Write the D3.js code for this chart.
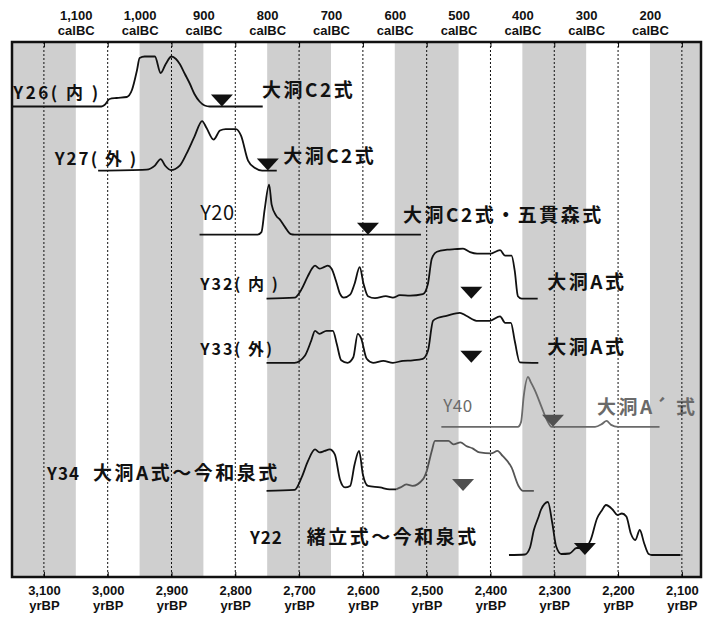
<!DOCTYPE html>
<html>
<head>
<meta charset="utf-8">
<script src="https://cdn.jsdelivr.net/npm/d3@7"></script>
<style>
body { margin: 0; background: #fff; }
svg text { font-family: "Noto Sans CJK JP", "Noto Sans", sans-serif; }
.ax text { font-family: "Liberation Sans", Arial, sans-serif; font-weight: bold; fill: #111; }
</style>
</head>
<body>
<svg id="chart" width="707" height="617"></svg>
<script>
// tick values: yrBP along the bottom, calBC along the top
var bpTicks = [3100, 3000, 2900, 2800, 2700, 2600, 2500, 2400, 2300, 2200, 2100];
var calTicks = [1100, 1000, 900, 800, 700, 600, 500, 400, 300, 200];
// shaded calBC centuries
var shadeCal = [[1200, 1100], [1000, 900], [800, 700], [600, 500], [400, 300], [200, 100]];

// samples, top to bottom
var samples = ['Y26', 'Y27', 'Y20', 'Y32', 'Y33', 'Y40', 'Y34', 'Y22'];
var sampleText = ['Y26( 内 )', 'Y27( 外 )', 'Y20', 'Y32( 内 )', 'Y33( 外)', 'Y40', 'Y34', 'Y22'];
var typeText = ['大洞C2式', '大洞C2式', '大洞C2式・五貫森式', '大洞A式', '大洞A式', '大洞A´ 式', '大洞A式〜今和泉式', '緒立式〜今和泉式'];
// triangle marks, yrBP
var markBP = [2821, 2749, 2592, 2430, 2430, 2302, 2443, 2252];

// probability curves [yrBP, relative height]
var y26 = [[3150, 0], [3010, 0], [3005, 0.03], [2997, 0.15], [2986, 0.17], [2970, 0.19], [2962, 0.33],
  [2954, 0.73], [2950, 0.97], [2942, 1.0], [2926, 1.0], [2917, 0.67], [2909, 0.85], [2900, 1.0],
  [2893, 0.95], [2887, 0.85], [2879, 0.65], [2871, 0.45], [2864, 0.25], [2856, 0.1], [2848, 0.02],
  [2840, 0], [2757, 0]];
var y27 = [[3015, 0], [2939, 0.02], [2926, 0.1], [2917, 0.23], [2910, 0.1], [2901, 0.01], [2887, 0.1],
  [2876, 0.35], [2864, 0.68], [2852, 0.99], [2845, 0.85], [2834, 0.62], [2824, 0.8], [2815, 0.83],
  [2799, 0.83], [2791, 0.7], [2780, 0.2], [2769, 0.05], [2758, 0], [2735, 0]];
var y20 = [[2856, 0], [2765, 0], [2759, 0.05], [2754, 0.5], [2747, 1.0], [2743, 0.6], [2736, 0.38],
  [2730, 0.3], [2722, 0.15], [2713, 0.01], [2707, 0], [2509, 0]];
var y32 = [[2751, 0], [2707, 0.02], [2697, 0.17], [2687, 0.43], [2680, 0.6], [2675, 0.66], [2668, 0.6],
  [2661, 0.63], [2655, 0.66], [2649, 0.6], [2642, 0.35], [2636, 0.1], [2630, 0.02], [2620, 0.08],
  [2613, 0.3], [2605, 0.63], [2599, 0.3], [2592, 0.05], [2581, 0.01], [2564, 0.05], [2553, 0.02],
  [2542, 0.07], [2526, 0.06], [2506, 0.09], [2498, 0.3], [2492, 0.8], [2484, 0.94], [2468, 0.98],
  [2456, 0.99], [2443, 1.0], [2432, 0.93], [2421, 0.9], [2401, 0.9], [2385, 0.97], [2377, 0.86],
  [2367, 0.86], [2362, 0.56], [2357, 0.05], [2351, 0], [2326, 0]];
var y33 = [[2751, 0], [2707, 0], [2691, 0.14], [2681, 0.44], [2675, 0.64], [2668, 0.58], [2657, 0.64],
  [2647, 0.64], [2641, 0.38], [2634, 0.05], [2624, 0], [2615, 0.11], [2608, 0.58], [2603, 0.5],
  [2594, 0.08], [2584, 0], [2568, 0.04], [2553, 0], [2537, 0.04], [2522, 0.05], [2506, 0.08],
  [2498, 0.24], [2490, 0.84], [2482, 0.9], [2469, 0.94], [2448, 1.0], [2438, 0.94], [2422, 0.84],
  [2401, 0.84], [2385, 0.93], [2377, 0.8], [2368, 0.8], [2362, 0.44], [2354, 0.01], [2325, 0]];
var y40 = [[2477, 0], [2357, 0], [2352, 0.1], [2348, 0.6], [2341, 1.0], [2337, 0.9], [2330, 0.72],
  [2320, 0.4], [2312, 0.15], [2304, 0], [2236, 0], [2225, 0.06], [2218, 0.12], [2211, 0.04],
  [2200, 0], [2135, 0]];
var y34a = [[2751, 0], [2707, 0.02], [2696, 0.27], [2686, 0.6], [2675, 0.83], [2668, 0.77], [2660, 0.8],
  [2652, 0.83], [2644, 0.73], [2636, 0.23], [2628, 0.07], [2620, 0.1], [2613, 0.53], [2606, 0.8],
  [2600, 0.33], [2592, 0.1], [2573, 0.07], [2558, 0.03], [2548, 0.03]];
var y34b = [[2548, 0.03], [2541, 0.07], [2532, 0.13], [2522, 0.1], [2506, 0.23], [2500, 0.4], [2492, 0.8],
  [2487, 1.0], [2466, 1.0], [2458, 0.93], [2447, 0.97], [2438, 0.9], [2428, 0.85], [2417, 0.77],
  [2399, 0.75], [2389, 0.8], [2381, 0.7], [2367, 0.47], [2356, 0.1], [2349, 0], [2332, 0]];
var y22 = [[2371, 0], [2346, 0.01], [2338, 0.15], [2332, 0.5], [2325, 0.75], [2321, 0.9], [2310, 1.06],
  [2303, 0.63], [2297, 0.17], [2289, 0.02], [2276, 0.03], [2265, 0.14], [2254, 0.14], [2243, 0.3],
  [2233, 0.73], [2225, 0.9], [2219, 1.0], [2208, 0.9], [2201, 0.8], [2194, 0.83], [2187, 0.77],
  [2180, 0.43], [2173, 0.3], [2166, 0.5], [2159, 0.23], [2152, 0.02], [2147, 0], [2102, 0]];

/*
 * Layout
 */
var svg = d3.select('#chart');
var frame = {left: 12, right: 701, top: 42, bottom: 577};

var x = d3.scaleLinear().domain([3150, 2070]).range([frame.left, frame.right]);
var cal = d3.scaleLinear().domain([3150 - 1950, 2070 - 1950]).range([frame.left, frame.right]);
var rowY = d3.scaleLinear().domain([0, samples.length - 1]).range([106.5, 555]);
var amp = d3.scaleLinear().domain([0, 1]).range([0, 50]);

// curves per row: [row, points, colour]
var curves = [
  [0, y26, '#111'], [1, y27, '#111'], [2, y20, '#111'], [3, y32, '#111'],
  [4, y33, '#111'], [5, y40, '#6a6a6a'], [6, y34a, '#111'], [6, y34b, '#555'], [7, y22, '#111']
];

// label placement: x in yrBP, offset from the row baseline, font size, weight, spacing
var sampleAt = [[3148, -8, 17, 'bold', 2.5], [3083, -6, 17, 'bold', 2], [2855, -15, 20, 'normal', 0.5],
  [2855, -9, 16, 'bold', 2], [2855, -8, 16, 'bold', 2], [2474, -15, 17, 'normal', 0.5],
  [3095, -11, 17, 'bold', 1], [2777, -11, 17, 'bold', 1]];
var typeAt = [[2758, -10], [2725, -8], [2537, -13], [2311, -10], [2311, -9], [2233, -13], [3023, -11], [2688, -11]];

svg.append('defs').append('clipPath').attr('id', 'plot')
  .append('rect')
  .attr('x', frame.left).attr('y', frame.top)
  .attr('width', frame.right - frame.left).attr('height', frame.bottom - frame.top);

var plot = svg.append('g').attr('clip-path', 'url(#plot)');

// grey calBC centuries
plot.selectAll('.shade')
  .data(shadeCal)
  .enter().append('rect')
  .attr('class', 'shade')
  .attr('x', function(d) { return Math.max(frame.left, cal(d[0])); })
  .attr('width', function(d) { return Math.min(frame.right, cal(d[1])) - Math.max(frame.left, cal(d[0])); })
  .attr('y', frame.top)
  .attr('height', frame.bottom - frame.top)
  .attr('fill', '#cfcfcf');

// sample labels
plot.selectAll('.sample')
  .data(samples)
  .enter().append('text')
  .attr('class', 'sample')
  .attr('x', function(d, i) { return x(sampleAt[i][0]); })
  .attr('y', function(d, i) { return rowY(i) + sampleAt[i][1]; })
  .attr('font-size', function(d, i) { return sampleAt[i][2]; })
  .attr('font-weight', function(d, i) { return sampleAt[i][3]; })
  .attr('letter-spacing', function(d, i) { return sampleAt[i][4]; })
  .attr('fill', function(d, i) { return i === 5 ? '#6a6a6a' : '#111'; })
  .text(function(d, i) { return sampleText[i]; });

// pottery type labels
plot.selectAll('.type')
  .data(typeText)
  .enter().append('text')
  .attr('class', 'type')
  .attr('x', function(d, i) { return x(typeAt[i][0]); })
  .attr('y', function(d, i) { return rowY(i) + typeAt[i][1]; })
  .attr('font-size', 19)
  .attr('font-weight', 'bold')
  .attr('letter-spacing', 2.5)
  .attr('fill', function(d, i) { return i === 5 ? '#6a6a6a' : '#111'; })
  .text(function(d) { return d; });

// dotted century lines
plot.selectAll('.grid')
  .data(bpTicks)
  .enter().append('line')
  .attr('class', 'grid')
  .attr('x1', x).attr('x2', x)
  .attr('y1', frame.top).attr('y2', frame.bottom)
  .attr('stroke', '#111')
  .attr('stroke-width', 1)
  .attr('stroke-dasharray', '2,2');

var line = d3.line()
  .x(function(d) { return x(d[0]); })
  .curve(d3.curveMonotoneX);

plot.selectAll('.curve')
  .data(curves)
  .enter().append('path')
  .attr('class', 'curve')
  .attr('d', function(c) {
    return line.y(function(d) { return rowY(c[0]) - amp(d[1]); })(c[1]);
  })
  .attr('fill', 'none')
  .attr('stroke', function(c) { return c[2]; })
  .attr('stroke-width', 1.8)
  .attr('stroke-linejoin', 'round');

// triangles
plot.selectAll('.mark')
  .data(markBP)
  .enter().append('path')
  .attr('class', 'mark')
  .attr('d', function(d, i) {
    var cx = x(d), cy = rowY(i);
    return 'M' + (cx - 11) + ',' + (cy - 12) + 'L' + (cx + 11) + ',' + (cy - 12) + 'L' + cx + ',' + cy + 'Z';
  })
  .attr('fill', function(d, i) { return (i === 5 || i === 6) ? '#505050' : '#111'; });

// frame
svg.append('rect')
  .attr('x', frame.left).attr('y', frame.top)
  .attr('width', frame.right - frame.left).attr('height', frame.bottom - frame.top)
  .attr('fill', 'none')
  .attr('stroke', '#111')
  .attr('stroke-width', 2.5);

// top: ticks on yrBP, labels on calBC
svg.append('g')
  .attr('transform', 'translate(0,' + frame.top + ')')
  .call(d3.axisTop(x).tickValues(bpTicks).tickSize(-5).tickFormat(''))
  .call(function(g) { g.select('.domain').remove(); });

var gCal = svg.append('g')
  .attr('class', 'ax')
  .attr('transform', 'translate(0,' + frame.top + ')')
  .call(d3.axisTop(cal).tickValues(calTicks).tickSize(0).tickFormat(''));
gCal.select('.domain').remove();
gCal.attr('font-size', 13);
gCal.selectAll('.tick text').each(function(d) {
  var t = d3.select(this).attr('y', null).attr('dy', null);
  t.append('tspan').attr('x', 0).attr('y', -22).text(d3.format(',')(d));
  t.append('tspan').attr('x', 0).attr('y', -7).text('calBC');
});

// bottom: yrBP
var gBP = svg.append('g')
  .attr('class', 'ax')
  .attr('transform', 'translate(0,' + frame.bottom + ')')
  .call(d3.axisBottom(x).tickValues(bpTicks).tickSize(-5).tickFormat(''));
gBP.select('.domain').remove();
gBP.attr('font-size', 13);
gBP.selectAll('.tick text').each(function(d) {
  var t = d3.select(this).attr('y', null).attr('dy', null);
  t.append('tspan').attr('x', 0).attr('y', 18).text(d3.format(',')(d));
  t.append('tspan').attr('x', 0).attr('y', 33).text('yrBP');
});
</script>
</body>
</html>
